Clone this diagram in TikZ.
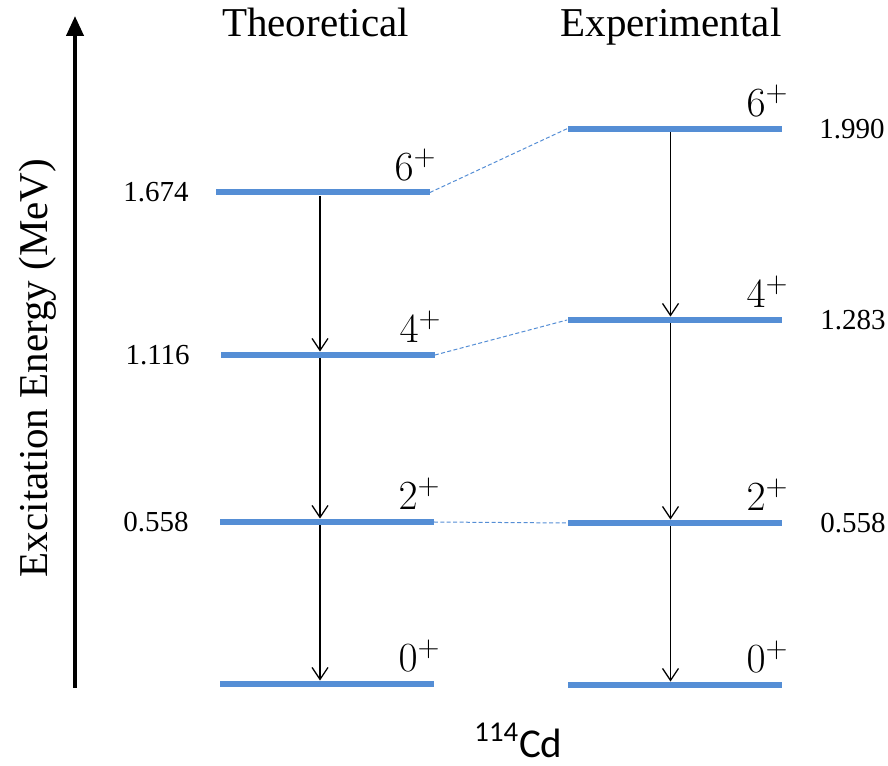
\documentclass[tikz,border=0pt]{standalone}
\usepackage{fontspec}
\setmainfont{Liberation Serif}
\newfontfamily\cdfont{Carlito}
\usetikzlibrary{arrows.meta,positioning}
\definecolor{lvl}{HTML}{558ED5}
\definecolor{ink}{HTML}{000000}

\begin{document}
\begin{tikzpicture}[x=0.5pt,y=0.5pt,
  level/.style={fill=lvl,inner sep=0pt,minimum height=3pt,minimum width=107pt},
  spin/.style={anchor=base east,inner sep=0pt,font=\fontsize{20}{24}\selectfont},
  num/.style={inner sep=0pt,font=\fontsize{14.5}{17}\selectfont},
  ttl/.style={anchor=base,inner sep=0pt,font=\fontsize{20.5}{24}\selectfont},
  trans/.style={-{Straight Barb[length=6pt,width=8pt]},line width=0.65pt,color=ink},
  link/.style={line width=0.5pt,color=lvl,dash pattern=on 2pt off 1.2pt},
  axis/.style={-{Triangle[length=10pt,width=8.5pt]},line width=2pt,color=ink}]
  \useasboundingbox (0,0) rectangle (888,765);
  % energy axis
  \coordinate (ybot) at (75,77);
  \coordinate (ytop) at (75,749);
  \draw[axis] (ybot) -- (ytop);
  \node[rotate=90,inner sep=0pt,font=\fontsize{20.5}{24}\selectfont] (ylab) at (38,397) {Excitation Energy (MeV)};
  % column titles
  \node[ttl] (thy) at (315.5,728) {Theoretical};
  \node[ttl] (exp) at (671,728) {Experimental};
  % theoretical levels
  \node[level] (t0) at (326.5,81)  {};
  \node[level] (t2) at (326.5,243) {};
  \node[level] (t4) at (327.5,410) {};
  \node[level] (t6) at (322.5,572.5) {};
  % experimental levels
  \node[level] (e0) at (674.5,80)  {};
  \node[level] (e2) at (674.5,242) {};
  \node[level] (e4) at (674.5,445) {};
  \node[level] (e6) at (674.5,636.3) {};
  % spin labels
  \foreach \n/\j in {t0/0,t2/2,t4/4,t6/6,e0/0,e2/2,e4/4,e6/6}
    \node[spin] (s\n) at ([xshift=3.5pt,yshift=4.5pt]\n.north east) {$\j^+$};
  % energies
  \node[num,left=13pt of t6] (nt6) {1.674};
  \node[num,left=15pt of t4] (nt4) {1.116};
  \node[num,left=15pt of t2] (nt2) {0.558};
  \node[num,right=18.5pt of e6] (ne6) {1.990};
  \node[num,right=19pt of e4] (ne4) {1.283};
  \node[num,right=19pt of e2] (ne2) {0.558};
  % gamma transitions
  \coordinate (tx) at (320,0);
  \coordinate (ex) at (670.5,0);
  \draw[trans] (t6.south -| tx) -- (t4.north -| tx);
  \draw[trans] (t4.south -| tx) -- (t2.north -| tx);
  \draw[trans] (t2.south -| tx) -- (t0.north -| tx);
  \draw[trans] (e6.south -| ex) -- (e4.north -| ex);
  \draw[trans] (e4.south -| ex) -- (e2.north -| ex);
  \draw[trans] (e2.south -| ex) -- (e0.north -| ex);
  % level correspondence
  \draw[link] (t6.east) -- (e6.west);
  \draw[link] (t4.east) -- (e4.west);
  \draw[link] (t2.east) -- (e2.west);
  % nucleus
  \node[anchor=base,inner sep=0pt,font=\cdfont\fontsize{20.5}{24}\selectfont] (nuc) at (518.5,8) {\textsuperscript{114}Cd};
\end{tikzpicture}
\end{document}
